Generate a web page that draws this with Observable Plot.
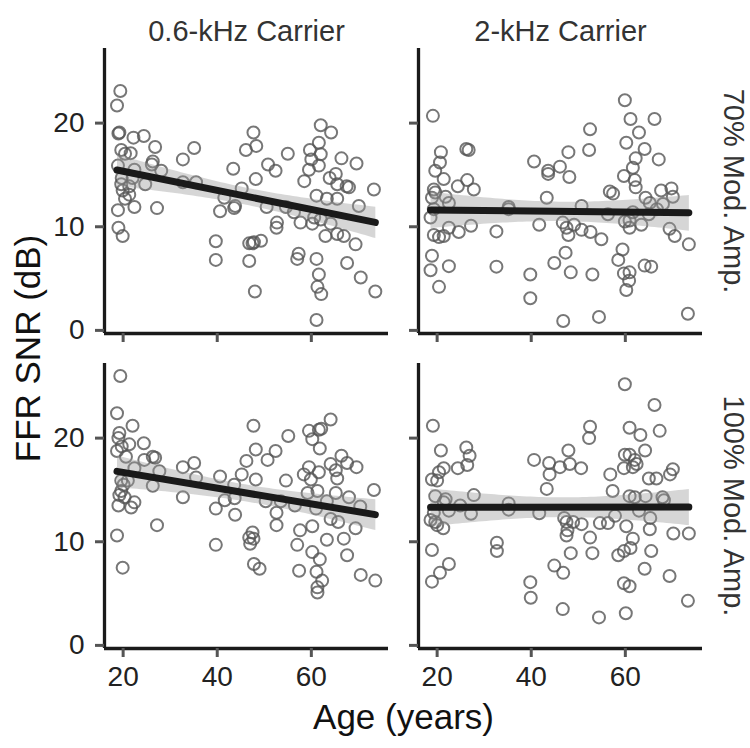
<!DOCTYPE html>
<html>
<head>
<meta charset="utf-8">
<script src="https://cdn.jsdelivr.net/npm/d3@7"></script>
<script src="https://cdn.jsdelivr.net/npm/@observablehq/plot@0.6"></script>
<style>
  html, body { margin: 0; padding: 0; background: #fff; }
</style>
</head>
<body>
<div id="chart"></div>
<script>
const carriers = ["0.6-kHz Carrier", "2-kHz Carrier"];
const mods = ["70% Mod. Amp.", "100% Mod. Amp."];
const xTicks = [20, 40, 60];
const yTicks = [0, 10, 20];
const xDomain = [16.04, 76.4];
const yDomain = [-0.3, 27.2];
const xTitle = "Age (years)";
const yTitle = "FFR SNR (dB)";

// [age, SNR] pairs per panel
const p06_70 = [[19.4,23.1],[18.7,21.7],[19.2,19.1],[19.0,19.0],[22.2,18.6],[24.4,18.75],[26.8,17.7],[35.1,17.6],[32.7,16.5],[19.6,17.4],[20.4,17.05],[21.6,17.1],[18.9,15.9],[26.3,16.3],[26.1,16.0],[28.1,15.4],[22.4,15.5],[19.7,14.7],[22.0,14.7],[19.6,14.1],[21.3,13.9],[24.7,14.1],[32.7,14.3],[35.5,14.3],[19.9,13.5],[21.3,13.1],[20.4,12.7],[18.9,11.6],[22.4,11.9],[27.2,11.8],[19.0,9.9],[19.9,9.1],
[47.7,19.1],[46.1,17.4],[48.3,17.8],[43.4,15.6],[48.2,14.6],[50.8,16.0],[52.4,15.4],[55.0,17.05],[45.2,13.7],[41.5,12.8],[40.6,11.5],[43.8,12.0],[43.6,11.8],[50.5,11.9],[52.7,10.4],[52.6,9.9],[54.6,11.9],[39.7,8.6],[39.7,6.8],[46.8,8.4],[47.5,8.4],[47.8,8.5],[49.3,8.65],[46.8,6.7],[48.0,3.75],
[56.3,11.4],[57.7,10.4],[57.3,7.4],[57.0,6.9],
[62.0,19.8],[64.2,19.1],[61.6,18.1],[59.7,17.4],[62.0,17.0],[60.0,16.5],[59.5,15.5],[61.6,15.9],[58.5,14.4],[66.4,16.6],[69.6,16.1],[63.9,14.7],[65.2,15.1],[65.5,14.1],[67.5,13.9],[68.0,13.8],[73.3,13.6],[61.1,13.0],[63.3,12.7],[65.5,12.7],[70.1,12.0],[60.6,10.9],[62.0,10.7],[60.2,10.3],[64.1,10.3],[63.0,9.1],[65.5,9.3],[66.9,9.1],[69.4,8.3],[61.1,6.9],[67.6,6.5],[61.6,5.4],[61.3,4.2],[62.1,3.5],[70.5,5.1],[73.6,3.75],[61.1,1.0]];

const p2_70 = [[19.1,20.7],[20.8,17.2],[20.6,16.2],[19.6,15.4],[21.4,14.6],[19.3,13.6],[19.6,13.3],[18.9,12.8],[21.8,12.9],[22.5,12.3],[19.3,11.7],[18.6,10.9],[22.5,9.9],[19.3,9.2],[20.4,9.0],[21.4,9.1],[18.9,7.2],[18.6,5.8],[22.5,6.2],[20.4,4.2],
[26.2,17.5],[26.7,17.4],[26.4,14.5],[24.4,13.9],[27.8,13.6],[24.6,9.5],[27.2,10.1],[32.6,9.55],[32.6,6.15],[35.2,11.9],[35.2,11.7],
[40.6,16.3],[43.6,15.4],[43.6,15.1],[46.1,15.8],[47.9,17.2],[48.1,14.8],[43.3,12.8],[41.7,10.2],[39.8,5.4],[39.8,3.1],[44.9,6.5],[47.3,7.5],[48.4,5.6],[46.7,10.4],[47.5,9.9],[47.9,9.2],[49.1,10.2],[50.7,12.0],[50.7,9.7],[52.6,9.5],[54.9,8.8],[53.0,5.4],[46.8,0.9],[54.4,1.3],[52.5,19.4],[52.3,17.4],[56.7,13.4],[57.4,13.2],[56.3,11.2],
[59.9,22.2],[61.1,20.4],[66.2,20.4],[62.9,19.1],[60.2,18.1],[64.1,17.5],[62.2,16.6],[67.1,16.5],[61.6,15.7],[59.7,14.9],[62.0,14.5],[62.2,13.8],[64.3,12.8],[65.2,12.3],[67.6,13.5],[69.8,13.7],[70.1,12.9],[68.0,12.2],[66.7,11.7],[65.0,11.2],[61.6,11.4],[60.9,10.6],[59.9,10.5],[60.9,9.9],[63.4,10.2],[69.4,9.8],[70.5,9.1],[73.5,8.3],[59.4,7.8],[58.5,6.8],[59.7,5.5],[60.9,5.6],[60.8,4.8],[60.2,3.9],[64.1,6.25],[65.5,6.15],[73.3,1.6]];

const p06_100 = [[19.4,26.0],[18.7,22.4],[19.2,20.5],[19.0,20.0],[19.7,19.2],[18.7,18.75],[22.0,21.2],[21.3,19.4],[24.4,19.5],[26.3,18.2],[26.8,18.1],[24.5,17.9],[20.6,18.2],[22.4,17.1],[27.7,16.8],[19.6,15.9],[21.0,15.9],[20.1,15.5],[26.3,15.4],[19.6,14.9],[19.2,14.5],[20.3,14.3],[19.0,13.5],[21.7,13.3],[22.4,13.8],[18.7,10.6],[27.2,11.6],[19.9,7.5],
[32.7,17.2],[35.1,17.6],[35.5,16.2],[32.7,14.3],[40.6,16.3],[39.7,13.2],[41.6,14.0],[43.6,15.5],[43.7,14.2],[43.8,12.6],[39.7,9.7],[45.2,16.5],[46.2,17.8],[47.7,21.2],[48.2,18.9],[48.2,16.0],[50.7,17.9],[52.4,18.75],[55.1,20.2],[54.6,15.9],[50.3,13.9],[53.5,13.9],[52.6,12.8],[52.6,11.6],[46.8,10.4],[47.5,10.9],[47.0,9.8],[47.7,10.3],[47.8,7.85],[49.0,7.4],
[56.5,13.5],[57.6,11.1],[57.0,9.7],[57.4,7.2],
[59.5,20.7],[61.6,20.8],[62.1,20.9],[60.2,19.9],[64.1,21.8],[61.8,19.0],[59.5,17.2],[58.4,16.5],[61.6,16.7],[59.9,16.0],[64.1,17.5],[66.4,18.3],[67.6,17.6],[69.6,17.2],[65.2,16.9],[65.5,16.1],[61.3,14.9],[59.2,14.7],[65.2,14.7],[63.3,13.9],[61.0,13.2],[68.0,14.3],[70.4,13.4],[73.3,15.0],[64.1,12.2],[65.7,11.9],[60.2,11.5],[69.4,11.3],[63.3,10.2],[66.9,10.3],[60.2,9.0],[61.8,8.3],[67.6,8.7],[61.1,7.1],[62.3,6.25],[61.3,5.6],[61.3,5.1],[70.5,6.8],[73.6,6.25]];

const p2_100 = [[19.1,21.2],[20.8,18.8],[18.9,16.0],[20.0,15.9],[20.4,16.7],[21.4,17.1],[24.4,17.1],[26.2,19.1],[26.9,18.3],[26.4,17.4],[19.6,14.4],[21.8,14.1],[21.4,13.8],[22.5,13.0],[19.3,12.8],[18.6,12.1],[19.6,11.9],[20.0,11.6],[21.3,11.3],[24.9,13.5],[27.8,14.5],[27.2,12.7],[18.9,9.2],[22.5,7.85],[20.6,7.0],[18.9,6.15],
[32.7,9.9],[32.7,9.1],[35.2,13.7],[35.2,13.1],[41.7,12.75],[40.6,17.9],[43.8,17.6],[43.9,16.5],[43.3,15.1],[46.1,17.2],[47.9,18.8],[48.2,17.5],[50.6,17.1],[47.0,12.3],[47.5,11.9],[48.9,11.9],[47.7,11.1],[47.5,10.6],[50.7,11.7],[48.4,8.9],[52.5,10.4],[53.0,8.9],[44.9,7.7],[46.8,7.0],[39.8,6.1],[39.9,4.6],[46.7,3.5],[52.5,21.1],[52.3,20.0],[54.6,11.8],[56.3,11.8],[56.8,16.5],[57.3,14.9],[57.8,12.5],[54.4,2.7],
[59.9,25.2],[66.2,23.2],[60.9,21.0],[63.2,20.3],[67.3,20.7],[64.2,18.8],[59.9,18.4],[60.9,18.4],[62.0,17.9],[62.4,17.5],[61.6,17.2],[59.7,17.1],[65.0,16.1],[66.6,16.1],[69.5,16.5],[70.1,17.0],[60.9,14.4],[62.0,14.3],[64.3,14.4],[62.9,13.0],[65.3,12.3],[67.9,14.3],[68.2,14.0],[60.2,11.5],[65.2,11.2],[61.6,10.3],[61.1,9.4],[59.7,9.1],[58.5,8.7],[65.5,9.1],[64.1,7.4],[70.2,10.8],[73.5,10.8],[69.4,6.7],[59.7,6.0],[60.9,5.7],[60.1,3.1],[73.3,4.3]];

const panels = [
  {carrier: carriers[0], mod: mods[0], pts: p06_70},
  {carrier: carriers[1], mod: mods[0], pts: p2_70},
  {carrier: carriers[0], mod: mods[1], pts: p06_100},
  {carrier: carriers[1], mod: mods[1], pts: p2_100}
];
const data = panels.flatMap(p => p.pts.map(([age, snr]) => ({carrier: p.carrier, mod: p.mod, age, snr})));
const stripTop = carriers.map(c => ({carrier: c, mod: mods[0], label: c}));
const stripRight = mods.map(m => ({carrier: carriers[1], mod: m, label: m}));

const chart = Plot.plot({
  width: 750,
  height: 748,
  marginLeft: 103,
  marginRight: 47,
  marginTop: 47,
  marginBottom: 99,
  style: {fontFamily: "'Liberation Sans', Arial, Helvetica, sans-serif", background: "#fff", color: "#222"},
  fx: {domain: carriers, paddingInner: 0.0952, paddingOuter: 0, axis: null, label: null},
  fy: {domain: mods, paddingInner: 0.0949, paddingOuter: 0, axis: null, label: null},
  x: {domain: xDomain, label: null},
  y: {domain: yDomain, label: null},
  marks: [
    Plot.dot(data, {x: "age", y: "snr", fx: "carrier", fy: "mod", r: 6, stroke: "#555", strokeOpacity: 0.8, strokeWidth: 2, fill: "none"}),
    Plot.linearRegressionY(data, {x: "age", y: "snr", fx: "carrier", fy: "mod", stroke: "#1a1a1a", strokeWidth: 7, fill: "#999", fillOpacity: 0.4, ci: 0.95}),
    Plot.ruleX([xDomain[0]], {stroke: "#1a1a1a", strokeWidth: 3.3}),
    Plot.ruleY([yDomain[0]], {stroke: "#1a1a1a", strokeWidth: 3.3}),
    Plot.axisY({ticks: yTicks, facetAnchor: null, tickSize: 9, stroke: "#555", strokeWidth: 3, tickFormat: () => "", label: null}),
    Plot.axisX({ticks: xTicks, facetAnchor: null, tickSize: 9, stroke: "#555", strokeWidth: 3, tickFormat: () => "", label: null}),
    Plot.axisY({ticks: yTicks, tickSize: 0, tickPadding: 20, fontSize: 28, fill: "#222", label: null}),
    Plot.axisX({ticks: xTicks, tickSize: 0, tickPadding: 18, fontSize: 28, fill: "#222", label: null}),
    Plot.text(stripTop, {fx: "carrier", fy: "mod", text: "label", frameAnchor: "top", textAnchor: "middle", dy: -28, fontSize: 29, fill: "#333"}),
    Plot.text(stripRight, {fx: "carrier", fy: "mod", text: "label", frameAnchor: "right", textAnchor: "middle", rotate: 90, dx: 31, fontSize: 29, fill: "#333"}),
    Plot.text([xTitle], {facet: "super", frameAnchor: "bottom", textAnchor: "middle", dy: 80, fontSize: 35, fill: "#111"}),
    Plot.text([yTitle], {facet: "super", frameAnchor: "left", textAnchor: "middle", dx: -76, rotate: -90, fontSize: 35, fill: "#111"})
  ]
});
document.getElementById("chart").appendChild(chart);
</script>
</body>
</html>
